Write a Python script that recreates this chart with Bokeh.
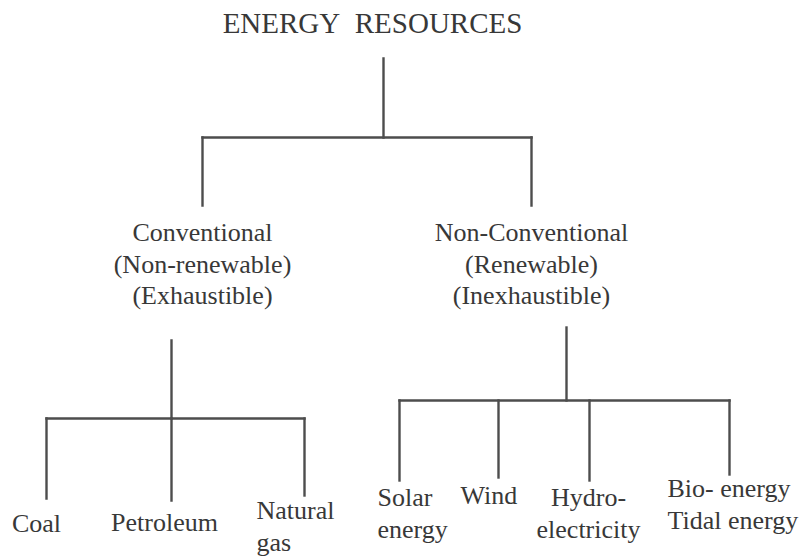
from bokeh.plotting import figure
from bokeh.models import Range1d, ColumnDataSource
from bokeh.core.properties import value
from bokeh.embed import file_html
from bokeh.resources import INLINE

# ---- data: the hierarchy of energy resources ----
root_label = "ENERGY\u00a0\u00a0RESOURCES"
branch_labels = [
    ["Conventional", "(Non-renewable)", "(Exhaustible)"],
    ["Non-Conventional", "(Renewable)", "(Inexhaustible)"],
]
conventional_sources = [["Coal"], ["Petroleum"], ["Natural", "gas"]]
nonconventional_sources = [["Solar", "energy"], ["Wind"], ["Hydro-", "electricity"],
                           ["Bio- energy", "Tidal energy"]]

# ---- layout (diagram coordinates, y downwards) ----
ROOT = dict(tx=372, ty=22, stem_x=383, stem_top=58, bar_y=137)
BRANCH_X = [202, 531]
BRANCH_DROP = 205
BRANCH_TEXT_Y = 232
LINE_GAP = 31.5

SUB = [
    dict(stem_x=171, stem_top=340, bar_y=418,
         leaf_x=[46, 171, 304], leaf_end=[498, 500, 495],
         text_x=[36, 164, 256], text_align=["center", "center", "left"],
         text_y=[523, 522, 510]),
    dict(stem_x=566, stem_top=327, bar_y=400,
         leaf_x=[399, 498, 589, 729], leaf_end=[480, 477, 480, 474],
         text_x=[377, 460, 588, 667], text_align=["left", "left", "center", "left"],
         text_y=[497, 495, 497, 488]),
]
leaf_groups = [conventional_sources, nonconventional_sources]

LINE_COLOR = "#4d4d4d"
TEXT_COLOR = "#383838"
FONT = "Liberation Serif"
LW = 2.4

p = figure(width=801, height=557, output_backend="svg", toolbar_location=None,
           x_range=Range1d(0, 801), y_range=Range1d(557, 0),
           min_border=0, outline_line_color=None)
p.axis.visible = False
p.grid.visible = False
p.background_fill_color = "white"
p.border_fill_color = "white"

segs = dict(x0=[], y0=[], x1=[], y1=[])
def seg(a, b, c, d):
    segs["x0"].append(a); segs["y0"].append(b); segs["x1"].append(c); segs["y1"].append(d)

# root connector
seg(ROOT["stem_x"], ROOT["stem_top"], ROOT["stem_x"], ROOT["bar_y"])
seg(min(BRANCH_X), ROOT["bar_y"], max(BRANCH_X), ROOT["bar_y"])
for bx in BRANCH_X:
    seg(bx, ROOT["bar_y"], bx, BRANCH_DROP)

texts = dict(x=[], y=[], t=[], align=[])
def txt(x, y, t, align="center"):
    texts["x"].append(x); texts["y"].append(y); texts["t"].append(t); texts["align"].append(align)

for bx, lines in zip(BRANCH_X, branch_labels):
    for i, line in enumerate(lines):
        txt(bx, BRANCH_TEXT_Y + i * LINE_GAP, line)

for sub, leaves in zip(SUB, leaf_groups):
    seg(sub["stem_x"], sub["stem_top"], sub["stem_x"], sub["bar_y"])
    seg(min(sub["leaf_x"]), sub["bar_y"], max(sub["leaf_x"]), sub["bar_y"])
    for lx, le, tx, ta, ty, lab in zip(sub["leaf_x"], sub["leaf_end"], sub["text_x"],
                                      sub["text_align"], sub["text_y"], leaves):
        seg(lx, sub["bar_y"], lx, le)
        for i, line in enumerate(lab):
            txt(tx, ty + i * LINE_GAP, line, ta)

p.segment(x0="x0", y0="y0", x1="x1", y1="y1", source=ColumnDataSource(segs),
          line_color=LINE_COLOR, line_width=LW, line_cap="square")

p.text(x="x", y="y", text="t", text_align="align", source=ColumnDataSource(texts),
       text_baseline="middle", text_font=value(FONT), text_font_size="26px",
       text_color=TEXT_COLOR)

p.text(x=[ROOT["tx"]], y=[ROOT["ty"]], text=[root_label], text_align="center",
       text_baseline="middle", text_font=value(FONT), text_font_size="29px",
       text_color=TEXT_COLOR)

open("out.html", "w").write(file_html(p, INLINE))
